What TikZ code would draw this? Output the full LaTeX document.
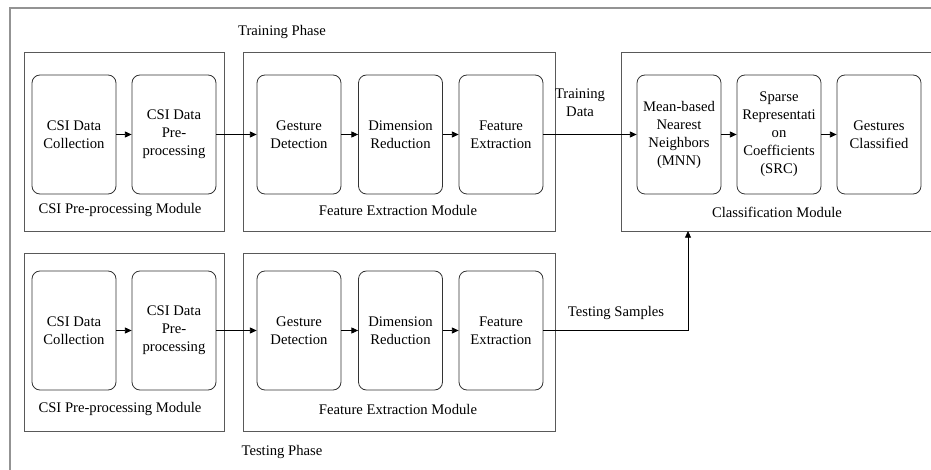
\documentclass[tikz,border=0pt]{standalone}
\usepackage{fontspec}
\setmainfont{Liberation Serif}
\usetikzlibrary{arrows.meta}
\tikzset{
  stage/.style={draw=black!80, line width=0.6pt, rounded corners=6pt, minimum width=63pt, minimum height=89.25pt, align=center, inner sep=1pt},
  module/.style={draw=black!65, line width=0.65pt, inner sep=0pt},
  flow/.style={-{Triangle[length=5pt,width=4.5pt]}, line width=0.6pt, black},
  caption/.style={inner sep=1pt, align=center}
}

\begin{document}
\begin{tikzpicture}[x=0.75pt, y=-0.75pt, font=\fontsize{11}{13.5}\selectfont]
\useasboundingbox (0,0) rectangle (931,470);
\clip (0,0) rectangle (931,470);
%%%%% Frame %%%%%
\draw[gray!85, line width=1pt] (10,480) -- (10,8) -- (945,8);
\node[caption] (trainphase) at (282,32) {Training Phase};
\node[caption] (testphase) at (282,452) {Testing Phase};
%%%%% Modules %%%%%
\node[module, minimum width=150pt, minimum height=134.25pt] (pretrain) at (124,141.5) {};
\node[module, minimum width=234pt, minimum height=134.25pt] (fetrain) at (399,141.5) {};
\node[module, minimum width=254.25pt, minimum height=134.25pt] (cls) at (790.5,141.5) {};
\node[module, minimum width=150pt, minimum height=133.5pt] (pretest) at (124,342) {};
\node[module, minimum width=234pt, minimum height=133.5pt] (fetest) at (399,342) {};
\node[caption] (pretrainlbl) at (120,210) {CSI Pre-processing Module};
\node[caption] (fetrainlbl) at (398,210) {Feature Extraction Module};
\node[caption] (clslbl) at (777,212) {Classification Module};
\node[caption] (pretestlbl) at (120,409) {CSI Pre-processing Module};
\node[caption] (fetestlbl) at (398,409) {Feature Extraction Module};
%%%%% Training row %%%%%
\node[stage] (coll1) at (74,134.5) {CSI Data\\Collection};
\node[stage] (prep1) at (174,134.5) {CSI Data\\Pre-\\processing};
\node[stage] (ges1) at (299,134.5) {Gesture\\Detection};
\node[stage] (dim1) at (400.5,134.5) {Dimension\\Reduction};
\node[stage] (feat1) at (501,134.5) {Feature\\Extraction};
\node[stage] (mnn) at (679,134.5) {Mean-based\\Nearest\\Neighbors\\(MNN)};
\node[stage] (src) at (779,134.5) {Sparse\\Representati\\on\\Coefficients\\(SRC)};
\node[stage] (gcls) at (879,134.5) {Gestures\\Classified};
\draw[flow] (coll1) -- (prep1);
\draw[flow] (prep1) -- (ges1);
\draw[flow] (ges1) -- (dim1);
\draw[flow] (dim1) -- (feat1);
\draw[flow] (feat1) -- (mnn);
\draw[flow] (mnn) -- (src);
\draw[flow] (src) -- (gcls);
\node[caption] (traindata) at (580,103) {Training\\Data};
%%%%% Testing row %%%%%
\node[stage] (coll2) at (74,330.5) {CSI Data\\Collection};
\node[stage] (prep2) at (174,330.5) {CSI Data\\Pre-\\processing};
\node[stage] (ges2) at (299,330.5) {Gesture\\Detection};
\node[stage] (dim2) at (400.5,330.5) {Dimension\\Reduction};
\node[stage] (feat2) at (501,330.5) {Feature\\Extraction};
\draw[flow] (coll2) -- (prep2);
\draw[flow] (prep2) -- (ges2);
\draw[flow] (ges2) -- (dim2);
\draw[flow] (dim2) -- (feat2);
\coordinate (clsin) at (688,231);
\draw[flow] (feat2.east) -| (clsin);
\node[caption] (testsamples) at (616,313) {Testing Samples};
\end{tikzpicture}
\end{document}
